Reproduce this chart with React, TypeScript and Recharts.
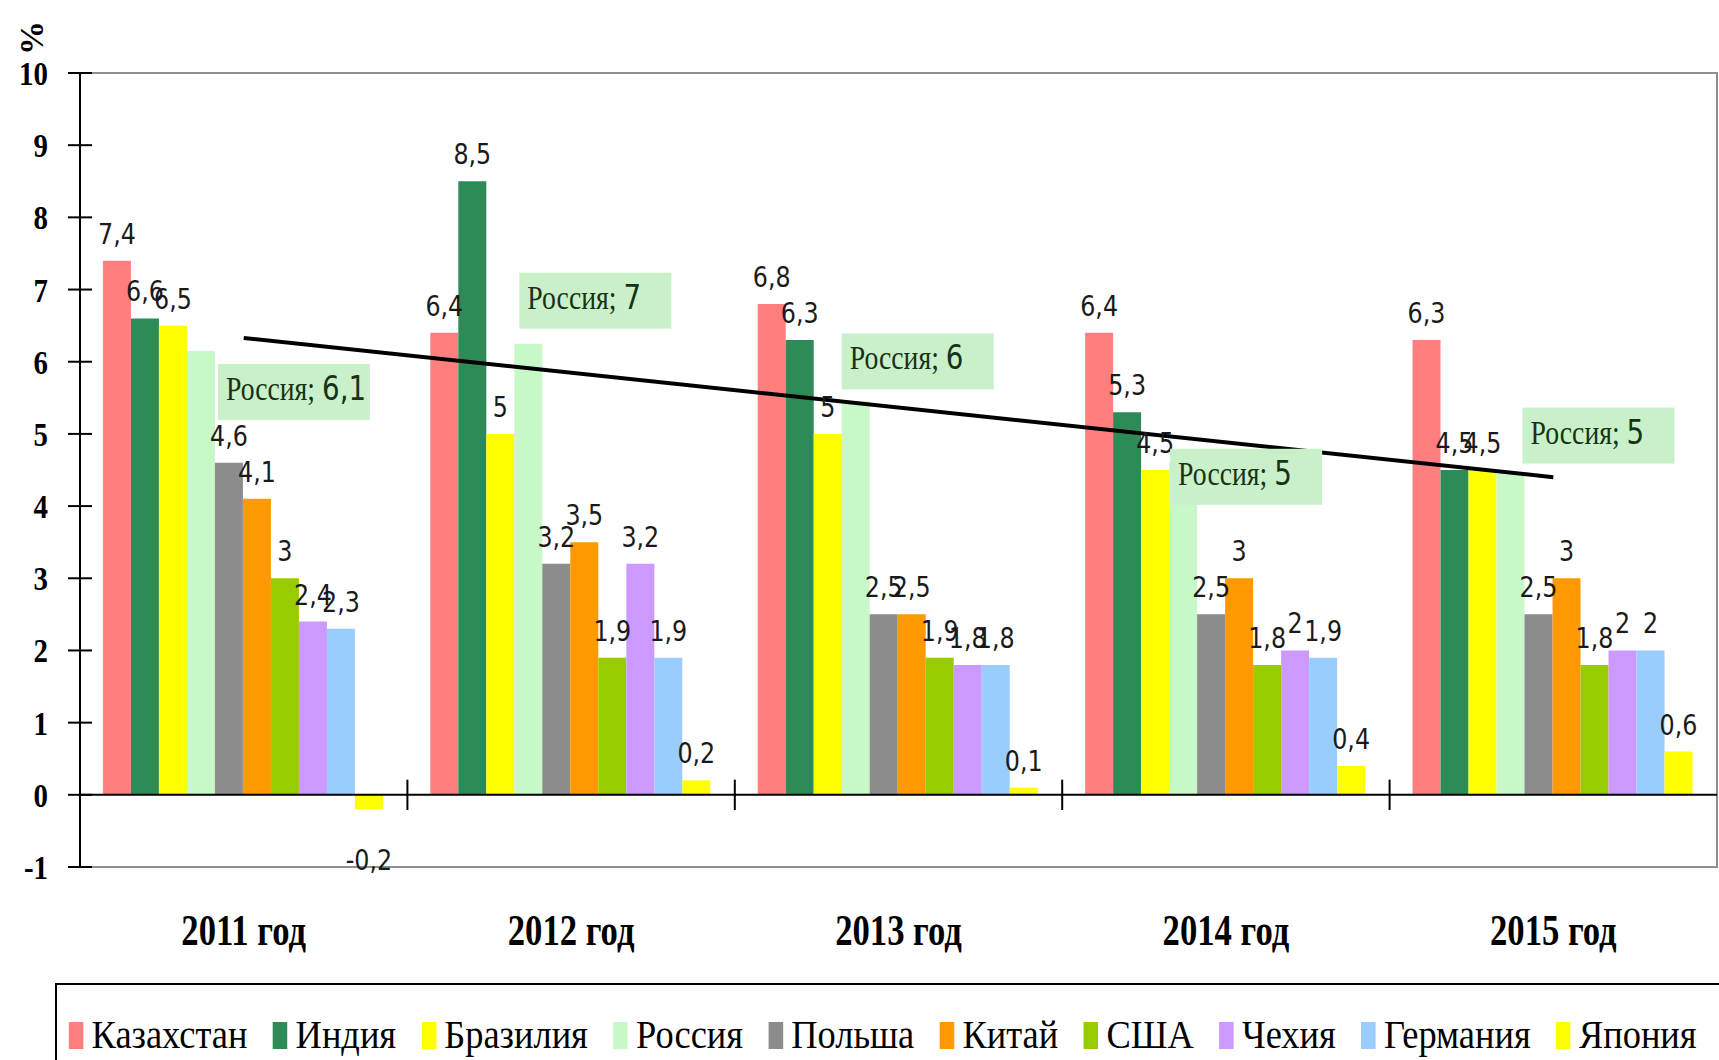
import React from 'react';
import {
  ComposedChart,
  Bar,
  Line,
  XAxis,
  YAxis,
  Legend,
  LabelList,
  ReferenceLine,
  ReferenceArea,
} from 'recharts';

// Годы по оси X
const categories = ['2011 год', '2012 год', '2013 год', '2014 год', '2015 год'];

// Рост ВВП, %
const kazakhstan = [7.4, 6.4, 6.8, 6.4, 6.3];
const india = [6.6, 8.5, 6.3, 5.3, 4.5];
const brazil = [6.5, 5, 5, 4.5, 4.5];
// высота столбцов России на картинке не совпадает с подписями (подписи правлены вручную)
const russia = [6.15, 6.25, 5.45, 4.6, 4.45];
const russiaLabels = ['6,1', '7', '6', '5', '5'];
const poland = [4.6, 3.2, 2.5, 2.5, 2.5];
const china = [4.1, 3.5, 2.5, 3, 3];
const usa = [3, 1.9, 1.9, 1.8, 1.8];
const czech = [2.4, 3.2, 1.8, 2, 2];
const germany = [2.3, 1.9, 1.8, 1.9, 2];
const japan = [-0.2, 0.2, 0.1, 0.4, 0.6];

// линия тренда по России: только концы, читаем с картинки
const trend = [6.33, null, null, null, 4.4];

const yTicks = [-1, 0, 1, 2, 3, 4, 5, 6, 7, 8, 9, 10];

const series = [
  { key: 'kz', name: 'Казахстан', values: kazakhstan, color: '#ff7f7f' },
  { key: 'in', name: 'Индия', values: india, color: '#2e8b57' },
  { key: 'br', name: 'Бразилия', values: brazil, color: '#ffff00' },
  { key: 'ru', name: 'Россия', values: russia, color: '#c8f7c8' },
  { key: 'pl', name: 'Польша', values: poland, color: '#8c8c8c' },
  { key: 'cn', name: 'Китай', values: china, color: '#ff9900' },
  { key: 'us', name: 'США', values: usa, color: '#99cc00' },
  { key: 'cz', name: 'Чехия', values: czech, color: '#cc99ff' },
  { key: 'de', name: 'Германия', values: germany, color: '#99ccff' },
  { key: 'jp', name: 'Япония', values: japan, color: '#ffff00' },
];

const data = categories.map((category, i) => {
  const row: Record<string, any> = { category, trend: trend[i] };
  series.forEach(s => {
    row[s.key] = s.values[i];
  });
  return row;
});

const SERIF = "'Liberation Serif', 'Times New Roman', serif";
const SANS = "'DejaVu Sans', Verdana, sans-serif";

// смещения плашек "Россия; N" от верха столбца
const russiaBoxOffsets = [
  [31, 13],
  [5, -71],
  [0, -68],
  [1, -14],
  [26, -66],
];

const fmt = (v: number) => String(v).replace('.', ',');

function boxOf(props: any) {
  const vb = props.viewBox && props.viewBox.width !== undefined ? props.viewBox : props;
  const x = Number(vb.x);
  const y = Number(vb.y);
  const w = Number(vb.width);
  const h = Number(vb.height);
  return { x, w, top: Math.min(y, y + h), bottom: Math.max(y, y + h) };
}

const renderValue = (props: any) => {
  const v = props.value;
  if (v === null || v === undefined) return null;
  const { x, w, top, bottom } = boxOf(props);
  const cx = x + w / 2;
  const ty = v < 0 ? bottom + 61 : top - 17;
  return (
    <text
      transform={`translate(${cx} ${ty}) scale(0.85 1)`}
      textAnchor="middle"
      fontFamily={SANS}
      fontSize={28}
      fill="#1a1a1a"
    >
      {fmt(v)}
    </text>
  );
};

const renderRussiaBox = (props: any) => {
  const i = props.index ?? 0;
  const { x, top } = boxOf(props);
  const [dx, dy] = russiaBoxOffsets[i] || [0, 0];
  const bx = x + dx;
  const by = top + dy;
  return (
    <g>
      <rect x={bx} y={by} width={152} height={56} fill="#c9f0c9" />
      <text
        transform={`translate(${bx + 8} ${by + 36}) scale(0.84 1)`}
        fontSize={33}
        fill="#163316"
      >
        <tspan fontFamily={SERIF}>Россия; </tspan>
        <tspan fontFamily={SANS}>{russiaLabels[i]}</tspan>
      </text>
    </g>
  );
};

const YTick = (props: any) => {
  const { x, y, payload } = props;
  return (
    <g>
      <line x1={x - 12} x2={x + 12} y1={y} y2={y} stroke="#000" strokeWidth={2} />
      <text
        transform={`translate(${x - 32} ${y + 12}) scale(0.85 1)`}
        textAnchor="end"
        fontFamily={SERIF}
        fontWeight="bold"
        fontSize={34}
        fill="#000"
      >
        {payload.value}
      </text>
    </g>
  );
};

const XTick = (props: any) => {
  const { x, y, payload } = props;
  return (
    <text
      transform={`translate(${x} ${y + 78}) scale(0.77 1)`}
      textAnchor="middle"
      fontFamily={SERIF}
      fontWeight="bold"
      fontSize={45}
      fill="#000"
    >
      {payload.value}
    </text>
  );
};

const PercentLabel = (props: any) => {
  const vb = props.viewBox || { x: 0, y: 73 };
  return (
    <text
      transform={`translate(${vb.x + 31} ${vb.y - 35}) rotate(-90)`}
      textAnchor="middle"
      dominantBaseline="central"
      fontFamily={SERIF}
      fontWeight="bold"
      fontSize={34}
      fill="#000"
    >
      %
    </text>
  );
};

// легенда в порядке рядов (Recharts по умолчанию сортирует по имени)
const renderLegend = () => (
  <div
    style={{
      border: '2px solid #000',
      height: 110,
      boxSizing: 'border-box',
      background: '#fff',
      overflow: 'hidden',
    }}
  >
    <div
      style={{
        display: 'flex',
        whiteSpace: 'nowrap',
        transform: 'scaleX(0.91)',
        transformOrigin: '0 0',
        paddingLeft: 13,
        marginTop: 30,
      }}
    >
      {series.map(s => (
        <div
          key={s.key}
          style={{ display: 'flex', alignItems: 'center', height: 40, marginRight: 28 }}
        >
          <span
            style={{
              display: 'inline-block',
              width: 16,
              height: 27,
              background: s.color,
              marginRight: 9,
            }}
          />
          <span style={{ fontFamily: SERIF, fontSize: 40, lineHeight: '40px', color: '#000' }}>
            {s.name}
          </span>
        </div>
      ))}
    </div>
  </div>
);

export default function App() {
  return (
    <div
      style={{
        position: 'absolute',
        left: 0,
        top: 0,
        width: 1719,
        height: 1060,
        overflow: 'hidden',
        background: '#fff',
      }}
    >
      <ComposedChart
        width={1719}
        height={1060}
        data={data}
        margin={{ top: 73, right: 2, bottom: 0, left: 0 }}
        barCategoryGap="7%"
        barGap={0}
      >
        <ReferenceArea
          y1={-1}
          y2={10}
          fill="none"
          stroke="#8f8f8f"
          strokeWidth={2}
          ifOverflow="visible"
        />
        <XAxis
          dataKey="category"
          axisLine={false}
          tickLine={false}
          tickSize={0}
          tickMargin={0}
          height={116}
          interval={0}
          tick={<XTick />}
        />
        <YAxis
          domain={[-1, 10]}
          ticks={yTicks}
          interval={0}
          width={80}
          axisLine={{ stroke: '#000', strokeWidth: 2 }}
          tickLine={false}
          tickSize={0}
          tickMargin={0}
          tick={<YTick />}
          label={<PercentLabel />}
        />
        {series.map(s => (
          <Bar
            key={s.key}
            dataKey={s.key}
            name={s.name}
            fill={s.color}
            isAnimationActive={false}
          >
            {s.key === 'ru' ? (
              <LabelList dataKey={s.key} content={renderRussiaBox} />
            ) : (
              <LabelList dataKey={s.key} content={renderValue} />
            )}
          </Bar>
        ))}
        <ReferenceLine y={0} stroke="#000" strokeWidth={2} />
        {categories.slice(0, 4).map(c => (
          <ReferenceLine
            key={c}
            segment={[
              { x: c, y: -0.21 },
              { x: c, y: 0.21 },
            ]}
            position="end"
            stroke="#000"
            strokeWidth={2}
            ifOverflow="visible"
          />
        ))}
        <Line
          dataKey="trend"
          stroke="#000"
          strokeWidth={4}
          dot={false}
          connectNulls
          legendType="none"
          isAnimationActive={false}
        />
        <Legend
          verticalAlign="bottom"
          content={renderLegend}
          wrapperStyle={{ position: 'absolute', left: 55, top: 983, bottom: 'auto', width: 1700, height: 77 }}
        />
      </ComposedChart>
    </div>
  );
}
